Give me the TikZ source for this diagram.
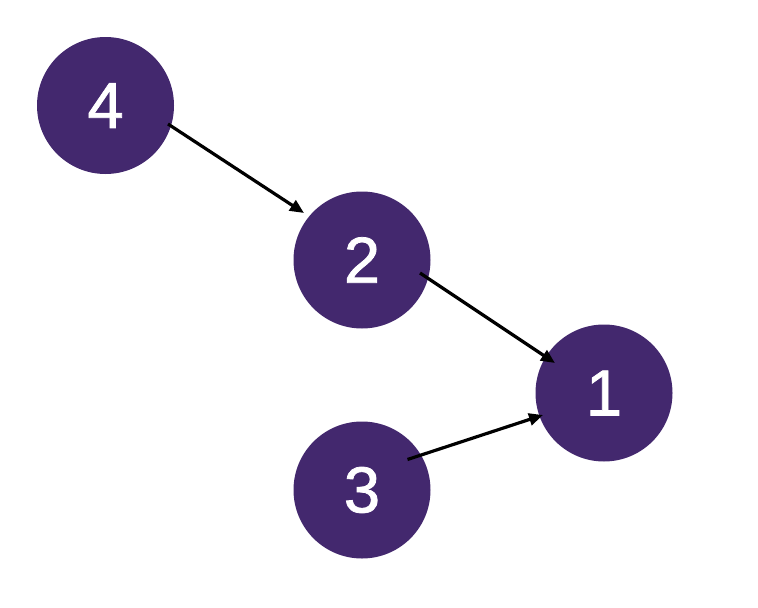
\documentclass[tikz,border=0pt]{standalone}
\usepackage{fontspec}
\setmainfont{Liberation Sans}
\newfontfamily\digitfont[FakeBold=1.2]{Liberation Sans}
\usetikzlibrary{arrows.meta,calc}
\definecolor{nodepurple}{RGB}{67,40,110}
\begin{document}
\begin{tikzpicture}[x=1pt,y=-1pt,
  vertex/.style={circle,fill=nodepurple,draw=none,minimum size=137pt,inner sep=0pt,
    text=white,font=\digitfont\fontsize{65}{65}\selectfont},
  link/.style={line width=3.2pt,black,-{Triangle[length=14pt,width=12pt]}}]
  \useasboundingbox (0,0) rectangle (758,608);
  % tree nodes
  \node[vertex] (n4) at (105.5,105.5) {4};
  \node[vertex] (n2) at (362,260) {2};
  \node[vertex] (n1) at (604,393) {1};
  \node[vertex] (n3) at (362,490) {3};
  % arrow end points, placed relative to the nodes
  \coordinate (s42) at ($(n4)+(62.5,18.5)$);
  \coordinate (e42) at ($(n2)+(-58,-47)$);
  \coordinate (s21) at ($(n2)+(58,13)$);
  \coordinate (e21) at ($(n1)+(-49,-30)$);
  \coordinate (s31) at ($(n3)+(45.5,-30.5)$);
  \coordinate (e31) at ($(n1)+(-61,22)$);
  % parent links
  \draw[link] (s42) -- (e42);
  \draw[link] (s21) -- (e21);
  \draw[link] (s31) -- (e31);
\end{tikzpicture}
\end{document}
